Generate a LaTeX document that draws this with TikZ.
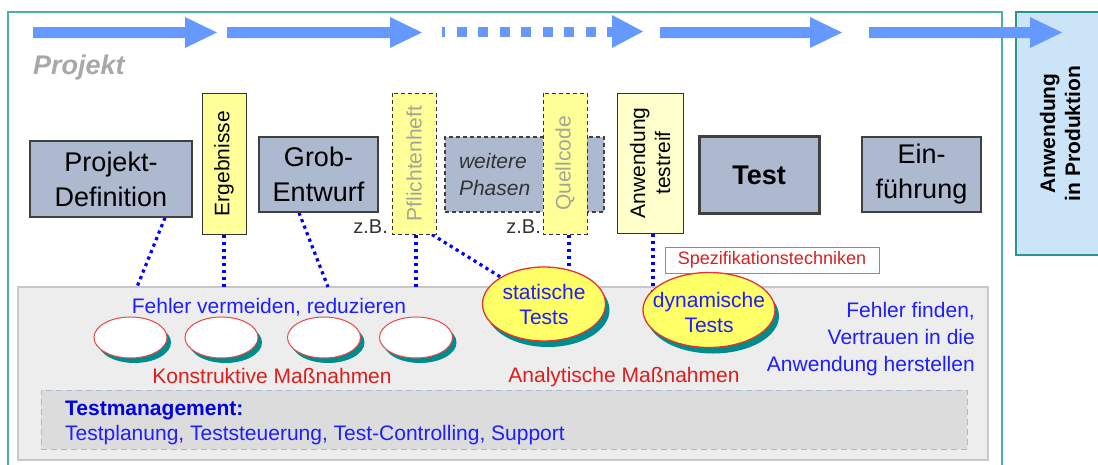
\documentclass[tikz,border=0pt]{standalone}
\usepackage{fontspec}
\setmainfont{Liberation Sans}
\usetikzlibrary{shapes.geometric,shadows}

\definecolor{arrowblue}{RGB}{102,153,255}
\definecolor{frameteal}{RGB}{70,178,170}
\definecolor{boxteal}{RGB}{40,150,140}
\definecolor{prodblue}{RGB}{204,228,247}
\definecolor{boxgray}{RGB}{173,185,207}
\definecolor{docyellow}{RGB}{255,255,153}
\definecolor{paleyellow}{RGB}{255,255,204}
\definecolor{doctext}{RGB}{165,165,150}
\definecolor{ellyellow}{RGB}{255,255,102}
\definecolor{ellred}{RGB}{230,50,50}
\definecolor{shadowteal}{RGB}{0,140,140}
\definecolor{panelgray}{RGB}{237,237,237}
\definecolor{panelborder}{RGB}{200,200,200}
\definecolor{tmgray}{RGB}{220,220,220}
\definecolor{tmborder}{RGB}{170,185,215}
\definecolor{txtblue}{RGB}{30,30,255}
\definecolor{tmblue}{RGB}{0,0,225}
\definecolor{txtred}{RGB}{220,30,30}
\definecolor{projgray}{RGB}{168,168,168}
\definecolor{dotblue}{RGB}{0,0,255}

\newcommand\setfs[2]{\fontsize{#1}{#2}\selectfont}

\pgfdeclarelayer{back}
\pgfdeclarelayer{mid}
\pgfsetlayers{back,mid,main}

\begin{document}
\begin{tikzpicture}[x=1pt,y=-1pt,
  phase/.style={draw=black!75, line width=1.3, fill=boxgray, inner sep=0pt,
    align=center, font=\setfs{27}{35}},
  doc/.style={draw=black!80, line width=1, fill=docyellow, inner sep=0pt,
    rotate=90, align=center, font=\setfs{21}{25},
    minimum width=141, minimum height=44},
  docdash/.style={doc, dash pattern=on 4pt off 3pt, text=doctext},
  dotline/.style={draw=dotblue, line width=3.2, dash pattern=on 3.2pt off 3.8pt},
  constr/.style={ellipse, draw=ellred!90, fill=white, line width=1,
    minimum width=73, minimum height=41, inner sep=0pt,
    drop shadow={fill=shadowteal, shadow xshift=4pt, shadow yshift=-5pt, opacity=1}},
  testell/.style={ellipse, draw=ellred, fill=ellyellow, line width=1.3, inner sep=0pt,
    drop shadow={fill=shadowteal, shadow xshift=4pt, shadow yshift=-6pt, opacity=1}},
  testtext/.style={align=center, inner sep=0pt, font=\setfs{21}{25}, text=txtblue},
  bluetext/.style={inner sep=0pt, font=\setfs{21}{27}, text=txtblue},
  redtext/.style={inner sep=0pt, font=\setfs{21}{25}, text=txtred},
  zbtext/.style={anchor=east, inner sep=0pt, font=\setfs{20}{24}, text=black!80}
]
\useasboundingbox (0,0) rectangle (1098,464);
\clip (0,0) rectangle (1098,464);

% project frame, measures panel, test management strip
\begin{pgfonlayer}{back}
  \draw[frameteal, line width=1.5] (8,12) rectangle (1002,475);
  \node[draw=panelborder, fill=panelgray, line width=1.2, inner sep=0pt,
        minimum width=970, minimum height=173] (panel) at (503,373.5) {};
  \node[draw=tmborder, fill=tmgray, line width=1, dash pattern=on 6pt off 4pt,
        inner sep=0pt, minimum width=926, minimum height=59] (tm) at (504,419.5) {};
\end{pgfonlayer}

% production box on the right
\node[draw=boxteal, line width=2.5, fill=prodblue, rotate=90, inner sep=0pt,
      minimum width=243, minimum height=88, align=center,
      font=\bfseries\setfs{21}{25}] (prod) at (1060,133.5) {Anwendung\\in Produktion};

% phase arrows
\fill[arrowblue] (33,27) -- (185,27) -- (185,17) -- (217,32.5) -- (185,48)
  -- (185,38) -- (33,38) -- cycle;
\fill[arrowblue] (227,27) -- (390,27) -- (390,17) -- (422,32.5) -- (390,48)
  -- (390,38) -- (227,38) -- cycle;
\draw[arrowblue, line width=10, dash pattern=on 10pt off 11.5pt, dash phase=7pt]
  (442,31.5) -- (612,31.5);
\fill[arrowblue] (612,15) -- (643,31.5) -- (612,48) -- cycle;
\fill[arrowblue] (660,27) -- (810,27) -- (810,17) -- (842,32.5) -- (810,48)
  -- (810,38) -- (660,38) -- cycle;
\fill[arrowblue] (869,27) -- (1030,27) -- (1030,17) -- (1062,32.5) -- (1030,48)
  -- (1030,38) -- (869,38) -- cycle;

\node[anchor=base west, inner sep=0pt, text=projgray,
      font=\bfseries\itshape\setfs{27}{30}] (proj) at (33,74) {Projekt};

% phases
\node[phase, minimum width=162, minimum height=76] (pd) at (111,179) {Projekt-\\Definition};
\node[phase, minimum width=119, minimum height=75] (ge) at (318.5,174.5) {Grob-\\Entwurf};
\node[phase, dash pattern=on 4pt off 3pt, minimum width=159, minimum height=75,
      text width=131, inner xsep=14pt, align=left, text=black!80,
      font=\itshape\setfs{21}{27}] (wp) at (524.5,174.5) {weitere\\Phasen};
\node[phase, line width=3, minimum width=120, minimum height=77,
      font=\bfseries\setfs{27}{35}] (ts) at (759,175) {Test};
\node[phase, minimum width=119, minimum height=75] (ef) at (921.5,174.5) {Ein-\\führung};

% documents
\node[doc] (erg) at (224,163.5) {Ergebnisse};
\node[docdash] (pf) at (414,163.5) {Pflichtenheft};
\node[docdash] (qc) at (565,163.5) {Quellcode};
\node[doc, fill=paleyellow, minimum width=140, minimum height=66] (atr) at (650,163)
  {Anwendung\\testreif};

\node[zbtext] (zb1) at (388,227) {z.B.};
\node[zbtext] (zb2) at (541,227) {z.B.};

% specification techniques label
\node[draw=black!45, line width=1, fill=white, inner sep=0pt,
      minimum width=214, minimum height=26, font=\setfs{18}{21}, text=txtred]
      (spez) at (772,260) {Spezifikationstechniken};

% constructive and analytical measures
\node[constr] (k1) at (130.5,337.5) {};
\node[constr] (k2) at (221.5,337.5) {};
\node[constr] (k3) at (324,337.5) {};
\node[constr] (k4) at (416,337.5) {};
\node[testell, minimum width=123, minimum height=74] (stat) at (544,304) {};
\node[testell, minimum width=132, minimum height=75] (dyn) at (709,310) {};
\node[testtext] (statT) at (stat) {statische\\Tests};
\node[testtext] (dynT) at ([yshift=-2pt]dyn.center) {dynamische\\Tests};

% free ends of the dotted links on the panel edge
\coordinate (e1) at (137,287);
\coordinate (e2) at (224,287);
\coordinate (e3) at (328,287);
\coordinate (e4) at (416,287);

\begin{pgfonlayer}{mid}
  \draw[dotline] ([xshift=54pt]pd.south) -- (e1);
  \draw[dotline] (erg.west) -- (e2);
  \draw[dotline] ([xshift=-19.5pt]ge.south) -- (e3);
  \draw[dotline] ([xshift=2pt]pf.west) -- (e4);
  \draw[dotline] ([xshift=18pt]pf.west) -- (stat.center);
  \draw[dotline] ([xshift=4pt]qc.west) -- ([xshift=4pt]qc.west |- stat.center);
  \draw[dotline] ([xshift=3pt]atr.west) -- ([xshift=3pt]atr.west |- dyn.center);
\end{pgfonlayer}

% panel texts
\node[bluetext, anchor=base] (avoid) at (269,313) {Fehler vermeiden, reduzieren};
\node[redtext, anchor=base] (konst) at (272,383) {Konstruktive Maßnahmen};
\node[redtext, anchor=base] (anal) at (624,382) {Analytische Maßnahmen};
\node[bluetext, anchor=east, align=right] (find) at (975,339.5)
  {Fehler finden,\\Vertrauen in die\\Anwendung herstellen};
\node[anchor=base west, inner sep=0pt, font=\bfseries\setfs{21}{25}, text=tmblue]
  (tmhead) at (65,415) {Testmanagement:};
\node[bluetext, anchor=base west] (tmbody) at (65,440)
  {Testplanung, Teststeuerung, Test-Controlling, Support};
\end{tikzpicture}
\end{document}
